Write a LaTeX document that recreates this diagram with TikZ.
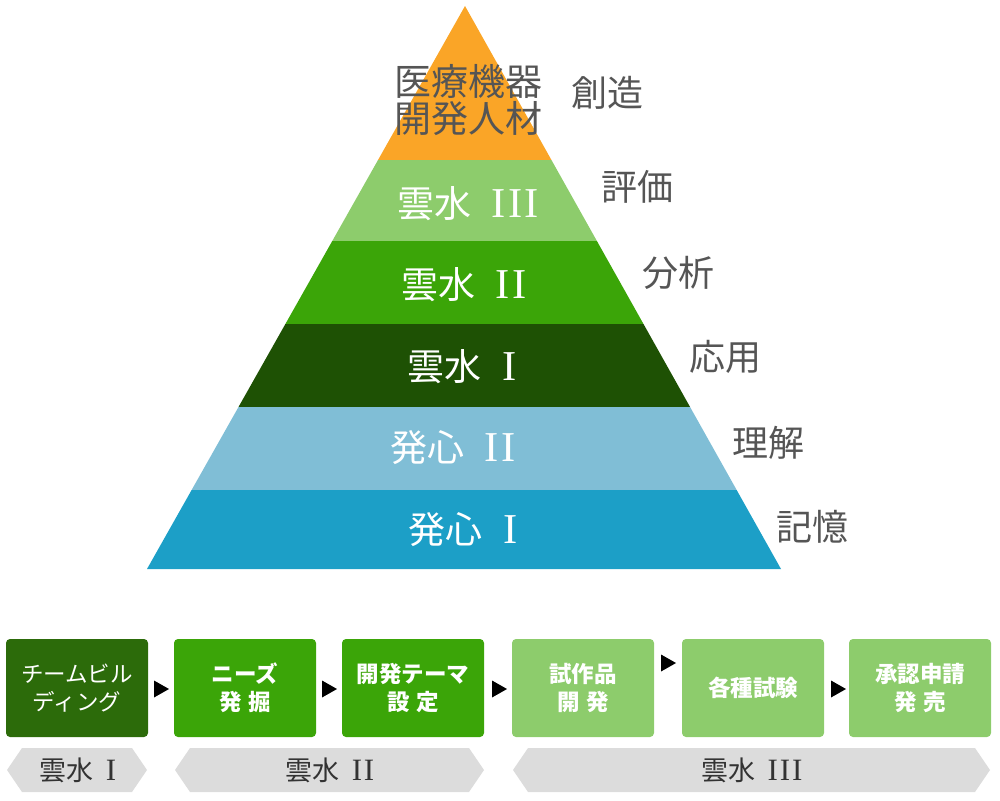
\documentclass[tikz,border=0pt]{standalone}
\usepackage{fontspec}
\newfontfamily\jp{Noto Sans CJK JP}
\newfontfamily\rom[Scale=1.15]{Liberation Serif}
\definecolor{cOrange}{HTML}{FAA527}
\definecolor{cLGreen}{HTML}{8DCC6C}
\definecolor{cGreen}{HTML}{3BA508}
\definecolor{cDGreen}{HTML}{1E5104}
\definecolor{cLBlue}{HTML}{80BED6}
\definecolor{cBlue}{HTML}{1C9FC7}
\definecolor{cBox}{HTML}{2C6B0A}
\definecolor{cGray}{HTML}{555555}
\definecolor{cChev}{HTML}{DCDCDC}
\definecolor{cChevTxt}{HTML}{333333}
\tikzset{
  lvl/.style={text=white, font=\jp\fontsize{37}{40}\selectfont, inner sep=0pt},
  side/.style={text=cGray, font=\jp\fontsize{36}{40}\selectfont, inner sep=0pt, anchor=west},
  stepbox/.style={rounded corners=4pt, minimum width=142pt, minimum height=98pt, inner sep=0pt,
     text=white, align=center, font=\jp\bfseries\fontsize{22.5}{28}\selectfont},
  tri/.style={fill=black},
  chev/.style={fill=cChev},
  chevtxt/.style={text=cChevTxt, font=\jp\fontsize{27}{30}\selectfont, inner sep=0pt},
}
\newcommand{\ro}[1]{{\rom #1}}
\begin{document}
\begin{tikzpicture}[x=1pt,y=-1pt]
\useasboundingbox (0,0) rectangle (1000,800);
% pyramid
\coordinate (apex) at (465,6);
\coordinate (bl) at (147,569);
\coordinate (br) at (781,569);
\begin{scope}
  \clip (apex) -- (br) -- (bl) -- cycle;
  \fill[cOrange] (100,0) rectangle (850,160);
  \fill[cLGreen] (100,160) rectangle (850,241);
  \fill[cGreen] (100,241) rectangle (850,324);
  \fill[cDGreen] (100,324) rectangle (850,407);
  \fill[cLBlue] (100,407) rectangle (850,490);
  \fill[cBlue] (100,490) rectangle (850,570);
\end{scope}
\node[lvl, text=cGray, align=center, font=\jp\fontsize{37}{37}\selectfont] (top) at (468,100) {医療機器\\開発人材};
\node[lvl] (u3) at (468,204) {雲水\hspace{0.55em}\ro{I\hspace{0.06em}I\hspace{0.06em}I}};
\node[lvl] (u2) at (464,285) {雲水\hspace{0.55em}\ro{I\hspace{0.06em}I}};
\node[lvl] (u1) at (462,367) {雲水\hspace{0.55em}\ro{I}};
\node[lvl] (h2) at (453,448) {発心\hspace{0.55em}\ro{I\hspace{0.06em}I}};
\node[lvl] (h1) at (463,530) {発心\hspace{0.55em}\ro{I}};
% side labels
\node[side] (s1) at (571,93) {創造};
\node[side] (s2) at (601,187) {評価};
\node[side] (s3) at (642,273) {分析};
\node[side] (s4) at (689,357) {応用};
\node[side] (s5) at (732,443) {理解};
\node[side] (s6) at (776,527) {記憶};
% process boxes
\node[stepbox, fill=cBox, font=\jp\fontsize{22.5}{28}\selectfont] (b1) at (77,688) {チームビル\\ディング};
\node[stepbox, fill=cGreen] (b2) at (245,688) {ニーズ\\発\hspace{0.3em}掘};
\node[stepbox, fill=cGreen] (b3) at (413,688) {開発テーマ\\設\hspace{0.3em}定};
\node[stepbox, fill=cLGreen] (b4) at (583,688) {試作品\\開\hspace{0.3em}発};
\node[stepbox, fill=cLGreen] (b5) at (753,688) {各種試験};
\node[stepbox, fill=cLGreen] (b6) at (920,688) {承認申請\\発\hspace{0.3em}売};
% arrow triangles
\coordinate (a1) at (154,689);
\coordinate (a2) at (322,689);
\coordinate (a3) at (492,689);
\coordinate (a4) at (661,663);
\coordinate (a5) at (831,689);
\foreach \a in {a1,a2,a3,a4,a5}{
  \fill[tri] (\a) ++(0,-8.5) -- ++(15,8.5) -- ++(-15,8.5) -- cycle;
}
% chevrons
\fill[chev] (7,770) -- (22,748) -- (132,748) -- (147,770) -- (132,792) -- (22,792) -- cycle;
\fill[chev] (175,770) -- (190,748) -- (469,748) -- (484,770) -- (469,792) -- (190,792) -- cycle;
\fill[chev] (513,770) -- (528,748) -- (975,748) -- (990,770) -- (975,792) -- (528,792) -- cycle;
\node[chevtxt] (c1) at (78,770) {雲水\hspace{0.45em}\ro{I}};
\node[chevtxt] (c2) at (330,770) {雲水\hspace{0.45em}\ro{I\hspace{0.06em}I}};
\node[chevtxt] (c3) at (752,770) {雲水\hspace{0.45em}\ro{I\hspace{0.06em}I\hspace{0.06em}I}};
\end{tikzpicture}
\end{document}
